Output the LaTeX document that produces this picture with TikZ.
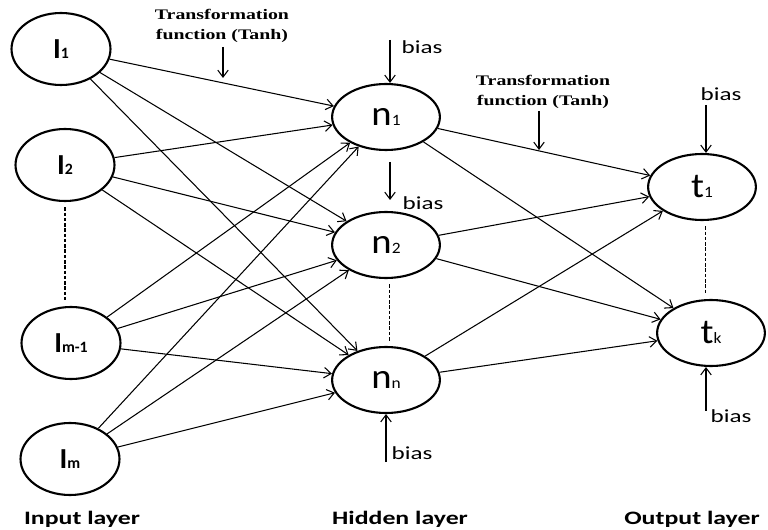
\documentclass[tikz,border=0pt]{standalone}
\usepackage{fontspec}
\setmainfont{Carlito}
\newfontfamily\tnrfont{Liberation Serif}
\usetikzlibrary{shapes.geometric,arrows.meta}

% node and text styles
\tikzset{
  neuron/.style={draw, ellipse, line width=1.2pt, minimum width=1.96cm, minimum height=1.32cm, inner sep=0pt},
  innode/.style={neuron, minimum width=1.98cm, minimum height=1.44cm, font=\bfseries\fontsize{16.5}{16.5}\selectfont},
  hidnode/.style={neuron, font=\fontsize{20}{20}\selectfont, xscale=1.1},
  wire/.style={->, line width=0.6pt},
  biasarrow/.style={->, line width=0.6pt},
  biaslabel/.style={font=\fontsize{10.5}{10.5}\selectfont, xscale=1.36, inner sep=0pt},
  tanhlabel/.style={font=\tnrfont\bfseries\fontsize{8.3}{11}\selectfont, align=center, xscale=1.36, inner sep=0pt},
  layerlabel/.style={font=\bfseries\fontsize{10.8}{10.8}\selectfont, xscale=1.36, inner sep=0pt},
  gap/.style={dash pattern=on 2pt off 1pt, line width=0.6pt, shorten <=3pt, shorten >=3pt}
}
\newcommand{\hsub}[1]{{\fontsize{9}{9}\selectfont #1}}
\newcommand{\isub}[1]{{\fontsize{9}{9}\selectfont #1}}

\begin{document}
\begin{tikzpicture}[x=0.02cm, y=-0.02cm, >={Straight Barb[length=4pt, width=6pt]}]
  \useasboundingbox (0,0) rectangle (768,530);

  % Input layer
  \node[innode] (I1) at (61,49) {I\isub{1}};
  \node[innode] (I2) at (65,165) {I\isub{2}};
  \node[innode] (Im1) at (71,343) {I\isub{m-1}};
  \node[innode] (Im) at (70,459) {I\isub{m}};

  % Hidden layer
  \node[hidnode] (n1) at (386,117) {n\hsub{1}};
  \node[hidnode] (n2) at (386,245) {n\hsub{2}};
  \node[hidnode] (nn) at (386,380) {n\hsub{n}};

  % Output layer
  \node[hidnode] (t1) at (702,187) {t\hsub{1}};
  \node[hidnode] (tk) at (711,333) {t\hsub{k}};

  % dotted gaps
  \draw[gap] (I2.south) -- (I2.south |- Im1.north);
  \draw[gap] ([xshift=2pt]n2.south) -- ([xshift=2pt]nn.north);
  \draw[gap] ([xshift=2pt]t1.south) -- ([xshift=2pt]t1.south |- tk.north);

  % Connections
  \foreach \i in {I1,I2,Im1,Im}
    \foreach \h in {n1,n2,nn}
      \draw[wire] (\i) -- (\h);
  \foreach \h in {n1,n2,nn}
    \foreach \o in {t1,tk}
      \draw[wire] (\h) -- (\o);

  % Bias inputs
  \coordinate (bn1) at (390,40);
  \draw[biasarrow] (bn1) -- (bn1 |- n1.north);
  \node[biaslabel] (bn1txt) at (422,47) {bias};
  \coordinate (bn2s) at (390,162);
  \coordinate (bn2e) at (390,200);
  \draw[biasarrow] (bn2s) -- (bn2e);
  \node[biaslabel] (bn2txt) at (423,203) {bias};
  \coordinate (bnn) at (386,462);
  \draw[biasarrow] (bnn) -- (bnn |- nn.south);
  \node[biaslabel] (bnntxt) at (412,453) {bias};
  \coordinate (bt1) at (706,105);
  \draw[biasarrow] (bt1) -- (bt1 |- t1.north);
  \node[biaslabel] (bt1txt) at (721,94) {bias};
  \coordinate (btk) at (706,411);
  \draw[biasarrow] (btk) -- (btk |- tk.south);
  \node[biaslabel] (btktxt) at (731,416) {bias};

  % Transformation functions
  \node[tanhlabel] (tf1) at (222,26) {Transformation\\function (Tanh)};
  \coordinate (tf1s) at (223,47);
  \coordinate (tf1e) at (223,78);
  \draw[biasarrow] (tf1s) -- (tf1e);
  \node[tanhlabel] (tf2) at (543,92) {Transformation\\function (Tanh)};
  \coordinate (tf2s) at (539,111);
  \coordinate (tf2e) at (539,150);
  \draw[biasarrow] (tf2s) -- (tf2e);

  % Layer names
  \node[layerlabel] (inlayer) at (82,519) {Input layer};
  \node[layerlabel] (hidlayer) at (400,519) {Hidden layer};
  \node[layerlabel] (outlayer) at (692,519) {Output layer};
\end{tikzpicture}
\end{document}
